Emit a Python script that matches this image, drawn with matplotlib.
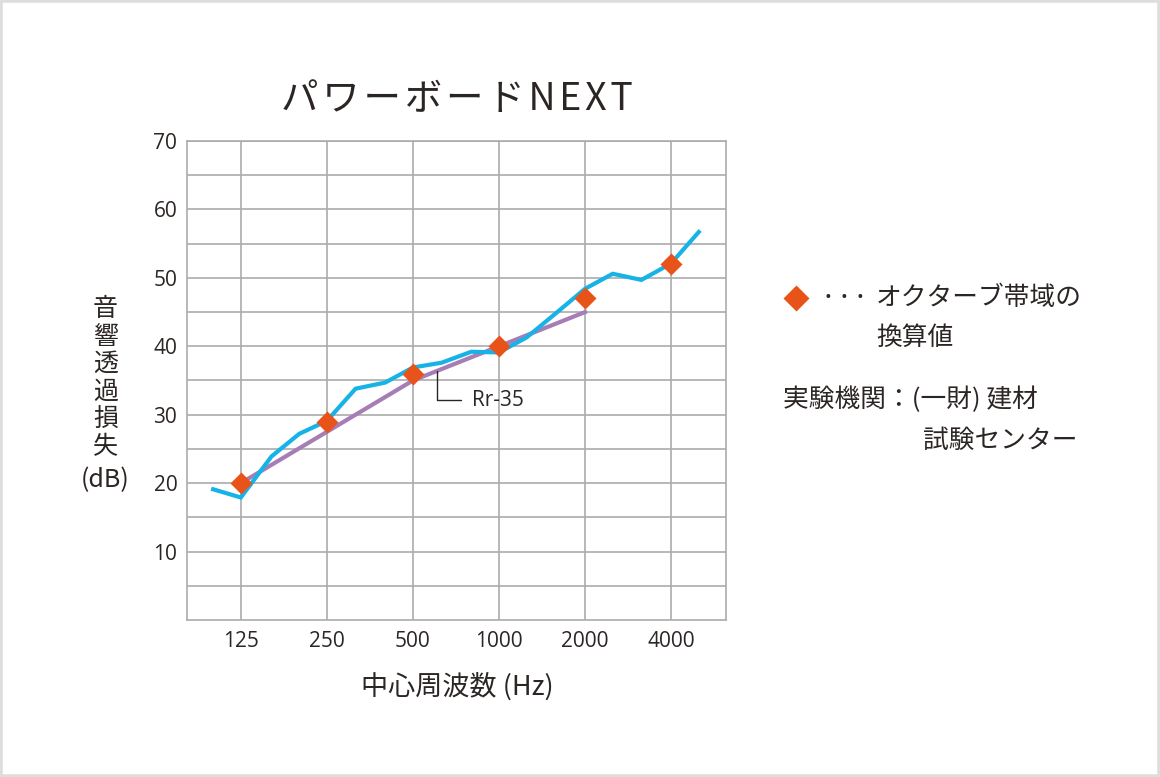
import matplotlib
matplotlib.use("Agg")
import matplotlib.pyplot as plt
import numpy as np
from matplotlib.lines import Line2D
from matplotlib.patches import Rectangle

plt.rcParams['font.family'] = ['Noto Sans CJK JP', 'DejaVu Sans']
LATIN = ['Open Sans', 'Noto Sans CJK JP', 'DejaVu Sans']

# 1/3 オクターブ帯域の測定値
freq_third = [100, 125, 160, 200, 250, 315, 400, 500, 630, 800,
              1000, 1250, 1600, 2000, 2500, 3150, 4000, 5000]
tl_third = [19.1, 17.9, 23.9, 27.2, 29.1, 33.8, 34.7, 36.9, 37.6, 39.2,
            39.1, 41.3, 45.0, 48.4, 50.6, 49.7, 52.1, 56.7]

# オクターブ帯域の換算値
freq_oct = [125, 250, 500, 1000, 2000, 4000]
tl_oct = [20, 29, 36, 40, 47, 52]

# 遮音等級 Rr-35
freq_rr = [125, 250, 500, 1000, 2000]
tl_rr = [20, 27.5, 35, 40, 45]

xtick_labels = ["125", "250", "500", "1000", "2000", "4000"]
ytick_values = [10, 20, 30, 40, 50, 60, 70]

TEXT = "#2b2523"
GRID = "#ababab"
BLUE = "#17b3e6"
PURPLE = "#a77db5"
ORANGE = "#e8531a"

fig = plt.figure(figsize=(11.6, 7.77), dpi=100)
ax = fig.add_axes([0.1612, 0.2021, 0.4647, 0.6164])

ax.plot(freq_third, tl_third, color=BLUE, lw=3.0, solid_joinstyle="miter", zorder=3)
ax.plot(freq_rr, tl_rr, color=PURPLE, lw=3.0, zorder=2)
ax.plot(freq_oct, tl_oct, ls="none", marker="D", ms=11, color=ORANGE, mec="none", zorder=4)

ax.set_xscale("log", base=2)
ax.set_xlim(81, 6230)
ax.set_ylim(0, 70)
ax.set_xticks(freq_oct)
ax.set_xticklabels(xtick_labels)
ax.xaxis.set_minor_locator(matplotlib.ticker.NullLocator())
ax.set_yticks(ytick_values)
ax.set_yticks(np.arange(5, 70, 10), minor=True)
ax.tick_params(axis="both", which="both", length=0, labelsize=15, colors=TEXT)
ax.tick_params(axis="x", pad=8)
ax.tick_params(axis="y", pad=7)
for lab in ax.get_xticklabels() + ax.get_yticklabels():
    lab.set_family(LATIN)
ax.grid(True, which="both", color=GRID, lw=1.2)
ax.grid(False, axis="x", which="minor")
for s in ax.spines.values():
    s.set_color(GRID)
    s.set_linewidth(1.2)

# Rr-35 の引き出し線
x_ann = 607
y_ann = np.interp(np.log2(x_ann), np.log2(freq_rr), tl_rr)
ax.annotate("Rr-35", xy=(x_ann, y_ann), xytext=(25, -21), textcoords="offset points",
            ha="left", va="center", fontsize=15, color=TEXT, family=LATIN,
            arrowprops=dict(arrowstyle="-", color=TEXT, lw=1.0, shrinkA=6, shrinkB=0,
                            connectionstyle="angle,angleA=0,angleB=90,rad=0"))

title = "\u200a".join("パワーボードNEXT")
fig.text(0.394, 0.872, title, ha="center", va="center", fontsize=27, color=TEXT)
fig.text(0.394, 0.117, "中心周波数 (Hz)", ha="center", va="center", fontsize=19.5, color=TEXT)
fig.text(0.091, 0.408, "音\n響\n透\n過\n損\n失", ha="center", va="bottom",
         fontsize=18, color=TEXT, linespacing=1.08)
fig.text(0.091, 0.382, "(dB)", ha="center", va="center", fontsize=18, color=TEXT)

# 凡例と注記
fig.add_artist(Line2D([0.686], [0.617], transform=fig.transFigure, marker="D", ms=13,
                      color=ORANGE, mec="none", ls="none"))
fig.text(0.711, 0.617, "•  •  •", ha="left", va="center", fontsize=13, color=TEXT,
         family=LATIN)
fig.text(0.755, 0.617, "オクターブ帯域の", ha="left", va="center", fontsize=18.5, color=TEXT)
fig.text(0.755, 0.565, "換算値", ha="left", va="center", fontsize=18.5, color=TEXT)
fig.text(0.675, 0.485, "実験機関：(一財) 建材", ha="left", va="center", fontsize=18.5, color=TEXT)
fig.text(0.796, 0.433, "試験センター", ha="left", va="center", fontsize=18.5, color=TEXT)

fig.patches.append(Rectangle((0, 0), 1, 1, transform=fig.transFigure, fill=False,
                             ec="#dddddd", lw=4))

fig.savefig("out.png", dpi=100, facecolor="white")
